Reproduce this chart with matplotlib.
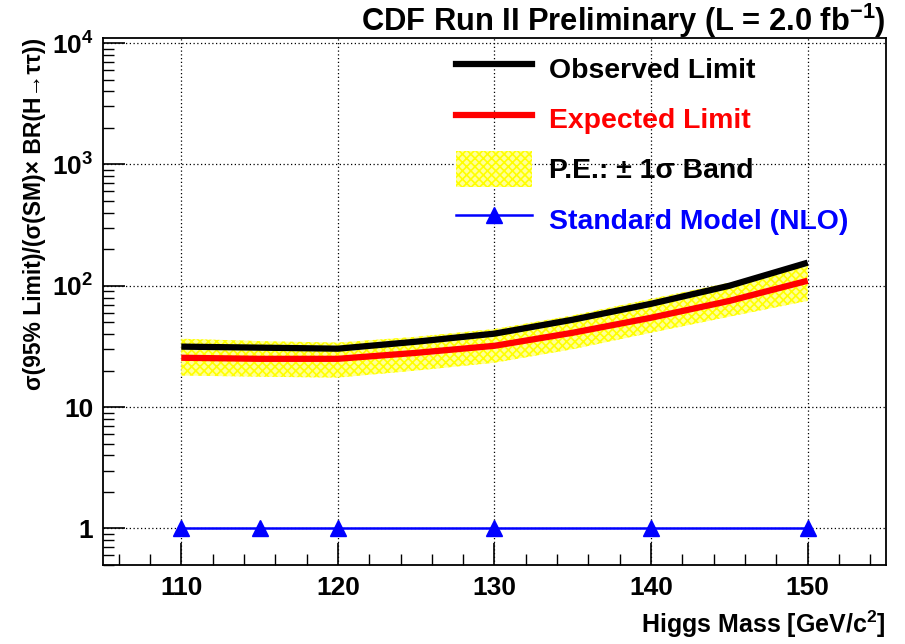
import matplotlib
matplotlib.use("Agg")
import matplotlib.pyplot as plt
from matplotlib.ticker import FixedLocator, FixedFormatter, LogLocator, NullFormatter, MultipleLocator
from matplotlib.lines import Line2D
from matplotlib.patches import Patch

plt.rcParams['font.family'] = ['Liberation Sans', 'DejaVu Sans']
plt.rcParams['font.weight'] = 'bold'
plt.rcParams['hatch.linewidth'] = 1.2
plt.rcParams['mathtext.fontset'] = 'custom'
plt.rcParams['mathtext.rm'] = 'Liberation Sans:bold'
plt.rcParams['mathtext.bf'] = 'Liberation Sans:bold'
plt.rcParams['mathtext.it'] = 'Liberation Sans:bold'
plt.rcParams['mathtext.sf'] = 'Liberation Sans:bold'
plt.rcParams['mathtext.default'] = 'bf'

# Higgs mass points [GeV/c^2]
mass = [110, 115, 120, 125, 130, 135, 140, 145, 150]
observed = [31.5, 30.9, 30.3, 34.6, 40.3, 52.5, 71.0, 100, 155]
expected = [25.5, 25.0, 25.0, 28.0, 32.0, 41.0, 54.5, 75.0, 110]
band_hi = [36.6, 35.0, 34.0, 38.0, 44.0, 57.0, 78.0, 106, 149]
band_lo = [18.2, 17.8, 17.5, 20.0, 23.2, 30.0, 41.0, 55.6, 75.0]

# Standard Model reference
sm_mass = [110, 115, 120, 130, 140, 150]
sm_value = [1, 1, 1, 1, 1, 1]

y_ticks = [1, 10, 100, 1000, 10000]
y_tick_labels = ['1', '10', r'10$^{2}$', r'10$^{3}$', r'10$^{4}$']
x_ticks = [110, 120, 130, 140, 150]

fig = plt.figure(figsize=(9.05, 6.44), dpi=100)
ax = fig.add_axes([103 / 905, 1 - 565 / 644, (886 - 103) / 905, (565 - 38) / 644])

ax.fill_between(mass, band_lo, band_hi, facecolor='#ffff99', edgecolor='#ffff00',
                hatch='xxxx', linewidth=0, zorder=2)
ax.plot(mass, expected, color='#ff0000', lw=4.5, zorder=3, solid_capstyle='butt')
ax.plot(mass, observed, color='black', lw=4.5, zorder=4, solid_capstyle='butt')
ax.plot(sm_mass, sm_value, color='#0000ff', lw=1.8, marker='^', markersize=11,
        zorder=5, clip_on=False)

ax.set_yscale('log')
ax.set_xlim(105, 155)
ax.set_ylim(0.5, 1.1e4)

ax.yaxis.set_major_locator(FixedLocator(y_ticks))
ax.yaxis.set_major_formatter(FixedFormatter(y_tick_labels))
ax.yaxis.set_minor_locator(LogLocator(base=10, subs=range(2, 10)))
ax.yaxis.set_minor_formatter(NullFormatter())
ax.xaxis.set_major_locator(FixedLocator(x_ticks))
ax.xaxis.set_minor_locator(MultipleLocator(2))

ax.tick_params(which='both', direction='in', top=False, right=False, labelsize=19)
ax.tick_params(which='major', length=16, width=1.2)
ax.tick_params(which='minor', length=8, width=1.0)
ax.tick_params(axis='x', pad=8)
ax.tick_params(axis='y', pad=7)
for lab in ax.get_xticklabels() + ax.get_yticklabels():
    lab.set_fontweight('bold')

ax.grid(True, which='major', color='black', linestyle=(0, (1, 2)), linewidth=0.9)
for sp in ax.spines.values():
    sp.set_linewidth(1.3)

ax.set_xlabel(r'Higgs Mass [GeV/c$^{2}$]', fontsize=18, fontweight='bold',
              loc='right', labelpad=6)
ax.set_ylabel('σ(95% Limit)/(σ(SM)× BR(H→ττ))',
              fontsize=16.5, fontweight='bold', loc='top', labelpad=4)

fig.text(886 / 905, 1 - 21 / 644, 'CDF Run II Preliminary (L = 2.0 fb$^{-1}$)',
         ha='right', va='center', fontsize=22.2, fontweight='bold')

handles = [
    Line2D([], [], color='black', lw=4.5),
    Line2D([], [], color='#ff0000', lw=4.5),
    Patch(facecolor='#ffff99', edgecolor='#ffff00', hatch='xxxx', linewidth=0),
    Line2D([], [], color='#0000ff', lw=1.8, marker='^', markersize=11),
]
labels = ['Observed Limit', 'Expected Limit', 'P.E.: ± 1σ Band', 'Standard Model (NLO)']
leg = ax.legend(handles, labels, loc='upper left', bbox_to_anchor=(0.418, 1.024),
                frameon=False, handlelength=2.7, handleheight=1.55,
                labelspacing=0.52, handletextpad=0.6,
                prop={'weight': 'bold', 'size': 20.4})
text_colors = ['black', '#ff0000', 'black', '#0000ff']
for t, c in zip(leg.get_texts(), text_colors):
    t.set_color(c)

fig.savefig('out.png', dpi=100)
